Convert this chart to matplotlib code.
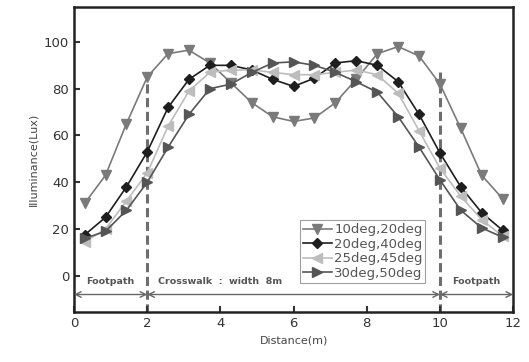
import matplotlib.pyplot as plt
import numpy as np

distance = [0.29, 0.86, 1.43, 2.0, 2.57, 3.14, 3.71, 4.29, 4.86, 5.43, 6.0,
            6.57, 7.14, 7.71, 8.29, 8.86, 9.43, 10.0, 10.57, 11.14, 11.71]

lux_10_20 = [31, 43, 65, 85, 95, 96.5, 91, 82.5, 74, 68, 66,
             67.5, 74, 84, 95, 98, 94, 82, 63, 43, 33]
lux_20_40 = [17.5, 25, 38, 53, 72, 84, 90, 90, 88, 84, 81,
             84.5, 91, 92, 90, 83, 69, 52.5, 38, 27, 19.5]
lux_25_45 = [14.5, 20, 32, 44, 64, 79, 87, 88, 88, 87, 86,
             86, 87, 88, 86, 78, 62, 46, 34, 24, 17]
lux_30_50 = [16, 19, 28, 40, 55, 69, 80, 82, 87, 91, 91.5,
             90, 87, 83, 78.5, 68, 55, 41, 28, 20.5, 16.5]

labels = ["10deg,20deg", "20deg,40deg", "25deg,45deg", "30deg,50deg"]
zone_edges = [(0, 2), (2, 10), (10, 12)]
zone_text = ["Footpath", "Crosswalk  :  width  8m", "Footpath"]
zone_text_x = [1.0, 4.0, 11.0]
xticks = [0, 2, 4, 6, 8, 10, 12]
yticks = [0, 20, 40, 60, 80, 100]

fig = plt.figure(figsize=(5.29, 3.62), dpi=100)
ax = fig.add_axes([0.14, 0.138, 0.83, 0.843])

ax.plot(distance, lux_10_20, color="#7a7a7a", marker="v", ms=6.5, lw=1.2, label=labels[0])
ax.plot(distance, lux_20_40, color="#1e1e1e", marker="D", ms=5.5, lw=1.2, label=labels[1])
ax.plot(distance, lux_25_45, color="#bdbdbd", marker="<", ms=6.5, lw=1.2, label=labels[2])
ax.plot(distance, lux_30_50, color="#555555", marker=">", ms=6.5, lw=1.2, label=labels[3])

# zone borders
for xb in [2, 10]:
    ax.plot([xb, xb], [-16, 87], color="#6e6e6e", lw=2.2, ls=(0, (3, 1.5)), zorder=1)

# zone arrows + labels
for (x0, x1), txt, tx in zip(zone_edges, zone_text, zone_text_x):
    ax.annotate("", xy=(x0, -8), xytext=(x1, -8),
                arrowprops=dict(arrowstyle="<->", color="#666666", lw=1.0,
                                shrinkA=0, shrinkB=0))
    ax.text(tx, -2.5, txt, ha="center", va="center", fontsize=6.8,
            color="#555555", fontweight="bold")

ax.set_xlim(0, 12)
ax.set_ylim(-15.5, 115)
ax.set_xticks(xticks)
ax.set_yticks(yticks)
ax.tick_params(direction="in", length=4, width=1.5, labelsize=9.5, colors="#333333")
for s in ax.spines.values():
    s.set_linewidth(1.8)
    s.set_color("#222222")

ax.set_xlabel("Distance(m)", fontsize=8, color="#444444")
ax.set_ylabel("Illuminance(Lux)", fontsize=8, color="#444444")

leg = ax.legend(loc="upper right", bbox_to_anchor=(0.80, 0.30), fontsize=9.5,
                frameon=True, fancybox=False, edgecolor="#888888",
                borderpad=0.2, labelspacing=0.12, handlelength=2.2,
                handletextpad=0.2, borderaxespad=0)
leg.get_frame().set_linewidth(0.8)
for t in leg.get_texts():
    t.set_color("#555555")

fig.savefig("out.png", dpi=100)
